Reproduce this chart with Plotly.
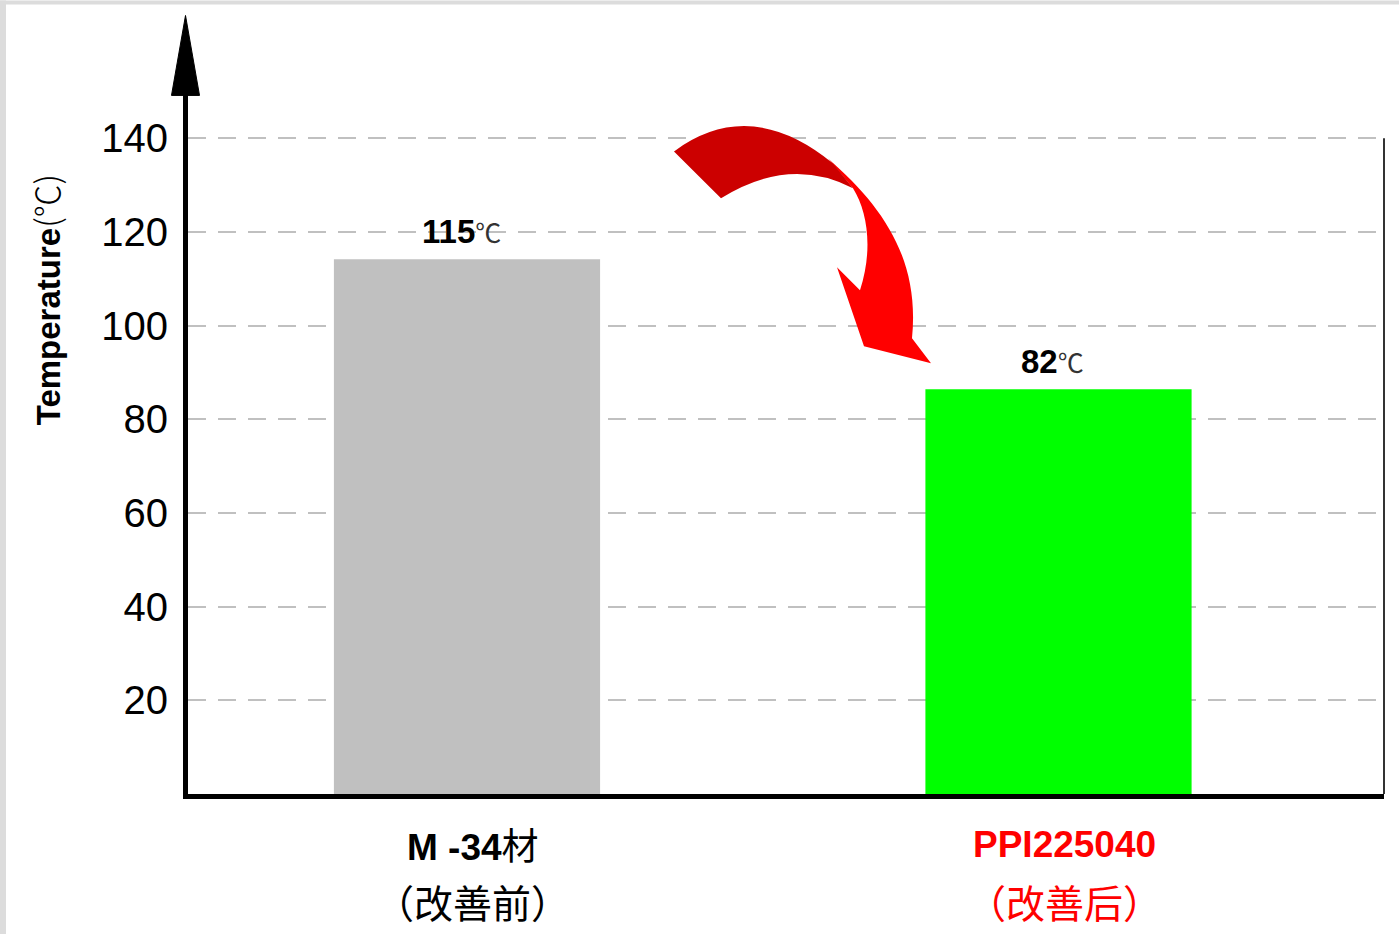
import plotly.graph_objects as go

# ---- data ----
categories_main = ["M -34", "PPI225040"]
categories_suffix = ["材", ""]
categories_sub = ["（改善前）", "（改善后）"]
temps = [114.2, 86.4]          # bar heights
temp_labels = ["115", "82"]    # printed labels
unit = "℃"
bar_colors = ["#C0C0C0", "#00FF00"]
label_colors = ["#000000", "#FF0000"]
yticks = [20, 40, 60, 80, 100, 120, 140]

W, H = 1399, 934
L, R, T, B = 188, 1384, 135.6, 794
PW, PH = R - L, B - T
YMAX = 140.5
AX = L - 2.5   # centre of the y axis line in pixels

def px(x):
    return (x - L) / PW

def py(y):
    return (B - y) / PH

def path(points_cmds):
    out = []
    for cmd, pts in points_cmds:
        s = cmd
        for (x, y) in pts:
            s += f" {px(x):.5f},{py(y):.5f}"
        out.append(s)
    return " ".join(out) + " Z"

xpos = list(range(len(temps)))
c1, c2 = 467, 1058.5
ppu = c2 - c1
fig = go.Figure()
fig.add_trace(go.Bar(x=xpos, y=temps, width=0.45, marker=dict(color=bar_colors, line=dict(width=0)),
                     hoverinfo="skip"))

NARROW = "Liberation Sans Narrow, Arial Narrow, Liberation Sans"
CJK = "Noto Sans CJK SC"

annotations = []
# value labels
for i, (v, lab) in enumerate(zip(temps, temp_labels)):
    annotations.append(dict(
        x=i - 0.01, y=v, xref="x", yref="y", yanchor="bottom", yshift=7, showarrow=False,
        text=f"<b>{lab}</b><span style='font-family:{CJK};font-size:26px;color:#333333'>{unit}</span>",
        font=dict(family=NARROW, size=33, color="#000000")))
# category labels
for i in range(len(categories_main)):
    annotations.append(dict(
        x=i + 0.01, y=0, xref="x", yref="paper", yanchor="middle", yshift=-50, showarrow=False,
        text=f"<b>{categories_main[i]}</b><span style='font-family:{CJK}'>{categories_suffix[i]}</span>",
        font=dict(family=NARROW, size=37, color=label_colors[i])))
    annotations.append(dict(
        x=i + 0.01, y=0, xref="x", yref="paper", yanchor="middle", yshift=-107, showarrow=False,
        text=categories_sub[i], font=dict(family=CJK, size=39, color=label_colors[i])))
# y title
annotations.append(dict(
    x=px(46), y=py(300), xref="paper", yref="paper", xanchor="center", yanchor="middle",
    showarrow=False, textangle=-90,
    text=f"<b>Temperature</b><span style='font-family:{CJK};font-weight:300'>(℃)</span>",
    font=dict(family="Liberation Sans", size=33, color="#000000")))

shapes = [
    # outer gray frame strips
    dict(type="rect", xref="paper", yref="paper", x0=px(0), x1=px(6), y0=py(934), y1=py(0),
         fillcolor="#DCDCDC", line=dict(width=0), layer="below"),
    dict(type="rect", xref="paper", yref="paper", x0=px(0), x1=px(1399), y0=py(4), y1=py(0),
         fillcolor="#DCDCDC", line=dict(width=0), layer="below"),
    # right frame line
    dict(type="line", xref="paper", yref="paper", x0=1, x1=1, y0=0, y1=140 / YMAX,
         line=dict(color="#333333", width=2)),
    # y-axis extension and arrow head
    dict(type="line", xref="paper", yref="paper", x0=px(AX), x1=px(AX), y0=0.5, y1=py(93),
         line=dict(color="#000000", width=5)),
    dict(type="path", xref="paper", yref="paper",
         path=path([("M", [(AX - 14, 95)]), ("L", [(AX + 14, 95)]), ("L", [(AX, 15)])]),
         fillcolor="#000000", line=dict(color="#000000", width=1)),
    # curved arrow, light part
    dict(type="path", xref="paper", yref="paper",
         path=path([("M", [(828, 158)]), ("C", [(882, 205), (920, 258), (912, 338)]),
                    ("L", [(931, 363)]), ("L", [(864, 346)]), ("L", [(837, 267)]),
                    ("L", [(860, 290)]), ("C", [(873, 250), (868, 212), (853, 188)])]),
         fillcolor="#FF0000", line=dict(width=0)),
    # curved arrow, dark part
    dict(type="path", xref="paper", yref="paper",
         path=path([("M", [(674, 151)]), ("Q", [(750, 95), (833, 163)]), ("L", [(853, 188)]),
                    ("Q", [(790, 155), (721, 198)])]),
         fillcolor="#CC0000", line=dict(width=0)),
]

fig.update_layout(
    width=W, height=H,
    margin=dict(l=L, r=W - R, t=T, b=H - B, pad=0),
    paper_bgcolor="#FFFFFF", plot_bgcolor="#FFFFFF",
    showlegend=False,
    annotations=annotations, shapes=shapes,
    xaxis=dict(range=[(L - c1) / ppu, (R - c1) / ppu], showticklabels=False, ticks="",
               showgrid=False, zeroline=False, showline=True, linecolor="#000000", linewidth=5,
               fixedrange=True),
    yaxis=dict(range=[0, YMAX], tickvals=yticks, ticks="", ticklabelstandoff=7,
               tickfont=dict(family="Liberation Sans", size=40, color="#000000"),
               showgrid=True, gridcolor="#C0C0C0", gridwidth=2, griddash="18px,12px",
               zeroline=False, showline=True, linecolor="#000000", linewidth=5, fixedrange=True),
)

fig.write_html("out.html", config={"displayModeBar": False},
               post_script="document.body.style.margin='0';document.body.style.padding='0';")
